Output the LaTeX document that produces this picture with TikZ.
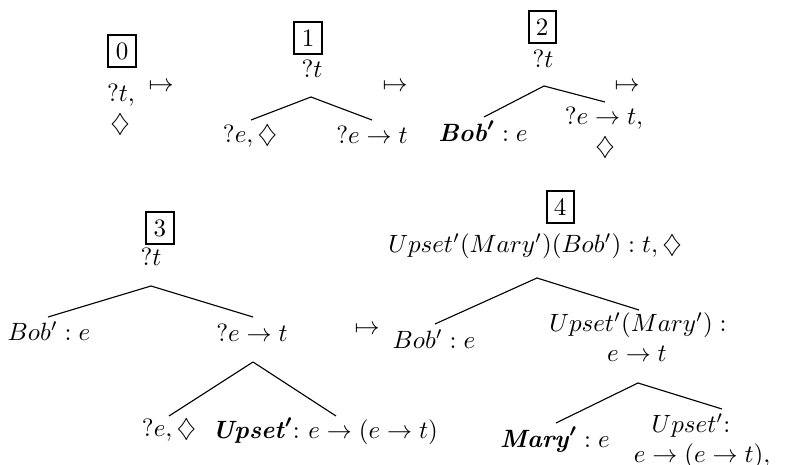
\documentclass[tikz,border=0pt]{standalone}
\usepackage{amsmath}
\usepackage{amssymb}
\newcommand{\bfitp}[1]{\text{\textbf{\textit{#1}}}^{\boldsymbol{\prime}}}
\begin{document}
\begin{tikzpicture}[x=0.4pt,y=-0.4pt,
  lab/.style={inner sep=0pt},
  numbox/.style={draw,line width=0.8pt,inner sep=2.9pt},
  br/.style={line width=0.45pt}]
\useasboundingbox (0,0) rectangle (789,465);
% ---------- tree 0
\node[numbox] (b0) at (122,51) {0};
\node[lab] (t0) at (121,95) {$?t,$};
\node[lab] (d0) at (120,124) {$\diamondsuit$};
\node[lab] (m0) at (161,87) {$\mapsto$};
% ---------- tree 1
\node[numbox] (b1) at (308,38) {1};
\node[lab] (t1) at (312,69) {$?t$};
\coordinate (a1) at (311,97);
\node[lab] (l1) at (250,136) {$?e,\diamondsuit$};
\node[lab] (r1) at (372,135) {$?e\rightarrow t$};
\draw[br] (a1) -- ([shift={(1,-16)}]l1.center);
\draw[br] (a1) -- ([shift={(0,-15)}]r1.center);
\node[lab] (m1) at (395,87) {$\mapsto$};
% ---------- tree 2
\node[numbox] (b2) at (542,27) {2};
\node[lab] (t2) at (543,59) {$?t$};
\coordinate (a2) at (544,86);
\node[lab] (l2) at (483,131) {$\bfitp{Bob}:e$};
\node[lab] (r2) at (604,118) {$?e\rightarrow t,$};
\node[lab] (d2) at (605,147) {$\diamondsuit$};
\draw[br] (a2) -- ([shift={(1,-14)}]l2.center);
\draw[br] (a2) -- ([shift={(1,-16)}]r2.center);
\node[lab] (m2) at (627,87) {$\mapsto$};
% ---------- tree 3
\node[numbox] (b3) at (160,228) {3};
\node[lab] (t3) at (151,257) {$?t$};
\coordinate (a3) at (151,286);
\node[lab] (l3) at (49,331) {$Bob':e$};
\node[lab] (r3) at (252,333) {$?e\rightarrow t$};
\draw[br] (a3) -- ([shift={(-1,-14)}]l3.center);
\draw[br] (a3) -- ([shift={(1,-16)}]r3.center);
\node[lab] (m3) at (367,330) {$\mapsto$};
\coordinate (a3b) at (253,362);
\node[lab] (ll3) at (169,430) {$?e,\diamondsuit$};
\node[lab] (rr3) at (325,431) {$\bfitp{Upset}{:}\ e\rightarrow(e\rightarrow t)$};
\draw[br] (a3b) -- ([shift={(0,-14)}]ll3.center);
\draw[br] (a3b) -- ([shift={(11,-15)}]rr3.center);
% ---------- tree 4
\node[numbox] (b4) at (560,207) {4};
\node[lab] (t4) at (535,246) {$Upset'(Mary')(Bob'):t,\diamondsuit$};
\coordinate (a4) at (537,278);
\node[lab] (l4) at (434,339) {$Bob':e$};
\node[lab] (r4a) at (638,325) {$Upset'(Mary'):$};
\node[lab] (r4b) at (637,354) {$e\rightarrow t$};
\draw[br] (a4) -- ([shift={(1,-15)}]l4.center);
\draw[br] (a4) -- ([shift={(1,-15)}]r4a.center);
\coordinate (a4b) at (638,383);
\node[lab] (ll4) at (555,440) {$\bfitp{Mary}:e$};
\node[lab] (rr4a) at (691,426) {$Upset'{:}$};
\node[lab] (rr4b) at (702,456) {$e\rightarrow(e\rightarrow t),$};
\draw[br] (a4b) -- ([shift={(1,-17)}]ll4.center);
\draw[br] (a4b) -- ([shift={(31,-17)}]rr4a.center);
\end{tikzpicture}
\end{document}
